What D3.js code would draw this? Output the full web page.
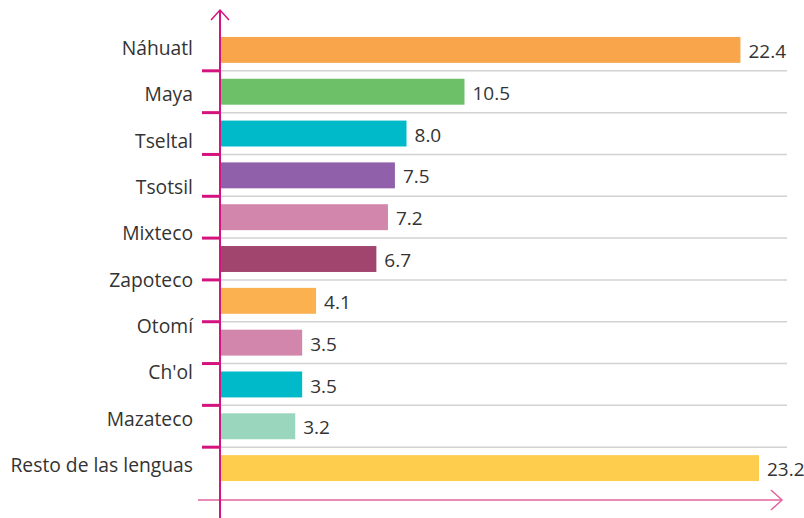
<!DOCTYPE html>
<html lang="es">
  <head>
    <meta charset="UTF-8" />
    <title>Lenguas indígenas</title>
    <style>
      body { margin: 0; background: #fff; }
      text { font-family: "Open Sans", Lato, sans-serif; fill: #333; }
    </style>
  </head>
  <body>
    <svg id="container" width="804" height="518"></svg>
  </body>
  <script src="https://cdn.jsdelivr.net/npm/d3@7"></script>
  <script>
    // bars (11) and the labels printed beside them (10, as in the original)
    let barValues = [22.4, 10.5, 8.0, 7.5, 7.2, 6.7, 4.1, 3.5, 3.5, 3.2, 23.2];
    let barColors = ["#f9a54b", "#6dc068", "#00b9c9", "#9160ab", "#d386ab", "#a1456f",
                     "#fbb14f", "#d386ab", "#00b9c9", "#9ad5bd", "#ffcd4d"];
    let labels = ["Náhuatl", "Maya", "Tseltal", "Tsotsil", "Mixteco", "Zapoteco",
                  "Otomí", "Ch'ol", "Mazateco", "Resto de las lenguas"];

    let svg = d3.select("#container");
    let axisX = 220;

    let x = d3.scaleLinear().domain([0, 23.2]).range([221, 759]);
    let y = d3.scaleBand().domain(d3.range(barValues.length)).range([29, 489]).paddingInner(0.38).paddingOuter(0.19);
    let labelY = d3.scalePoint().domain(labels).range([50, 467]);

    // grid lines between bars
    let bounds = d3.range(1, barValues.length).map(i => y(i) - y.step() * y.paddingInner() / 2);
    svg.selectAll(".grid").data(bounds).enter().append("line")
      .attr("x1", axisX).attr("x2", 787)
      .attr("y1", d => d).attr("y2", d => d)
      .attr("stroke", "#d2d2d4").attr("stroke-width", 1.5);

    // bars
    svg.selectAll(".bar").data(barValues).enter().append("rect")
      .attr("x", x(0)).attr("y", (d, i) => y(i))
      .attr("width", d => x(d) - x(0)).attr("height", y.bandwidth())
      .attr("fill", (d, i) => barColors[i]);

    // value labels
    svg.selectAll(".val").data(barValues).enter().append("text")
      .attr("x", d => x(d) + 8).attr("y", (d, i) => y(i) + y.bandwidth() / 2 + 3)
      .attr("dominant-baseline", "middle")
      .attr("font-size", 19)
      .text(d => d.toFixed(1));

    // category labels
    svg.selectAll(".lab").data(labels).enter().append("text")
      .attr("x", 193).attr("y", d => labelY(d))
      .attr("text-anchor", "end").attr("dominant-baseline", "middle")
      .attr("font-size", 19.3)
      .text(d => d);

    // ticks on the vertical axis
    svg.selectAll(".tick").data(bounds).enter().append("line")
      .attr("x1", 202).attr("x2", axisX)
      .attr("y1", d => d).attr("y2", d => d)
      .attr("stroke", "#d4137f").attr("stroke-width", 3);

    // horizontal axis with arrow
    svg.append("line").attr("x1", 198).attr("x2", 782).attr("y1", 500).attr("y2", 500)
      .attr("stroke", "#e5629f").attr("stroke-width", 1.5);
    svg.append("path").attr("d", "M771,490 L782,500 L771,510")
      .attr("fill", "none").attr("stroke", "#e5629f").attr("stroke-width", 1.5);

    // vertical axis with arrow
    svg.append("line").attr("x1", axisX).attr("x2", axisX).attr("y1", 10).attr("y2", 518)
      .attr("stroke", "#d4137f").attr("stroke-width", 2);
    svg.append("path").attr("d", `M${axisX - 9},20 L${axisX},10 L${axisX + 9},20`)
      .attr("fill", "none").attr("stroke", "#d4137f").attr("stroke-width", 1.5);
  </script>
</html>
